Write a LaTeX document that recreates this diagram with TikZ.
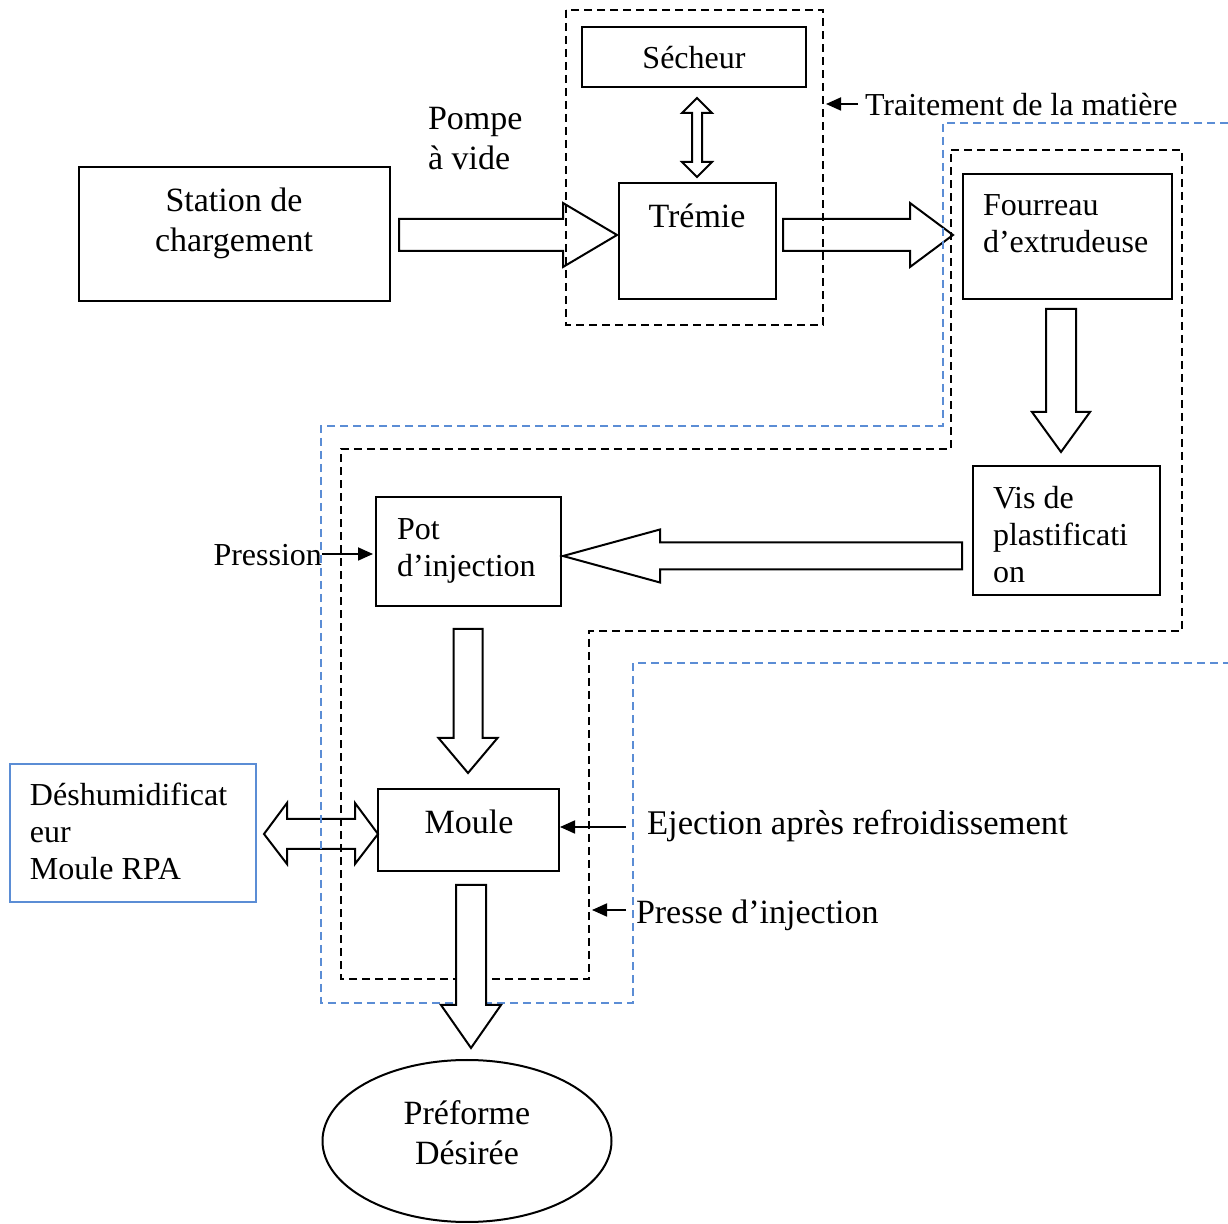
\documentclass[tikz,border=0pt]{standalone}
\usepackage{fontspec}
\setmainfont{Liberation Serif}
\usetikzlibrary{arrows.meta,fit,shapes.geometric}
\definecolor{bluedash}{RGB}{91,141,213}
\newcommand\bigfont{\fontsize{17}{20}\selectfont}
\newcommand\smallfont{\fontsize{16}{18.5}\selectfont}
% horizontal block arrow: start, headbase, tip, yc, shaft half, head half
\newcommand\hblock[7][]{\draw[blk,#1] (#2,#5-#6) -- (#3,#5-#6) -- (#3,#5-#7) -- (#4,#5) -- (#3,#5+#7) -- (#3,#5+#6) -- (#2,#5+#6) -- cycle;}
% vertical block arrow: start, headbase, tip, xc, shaft half, head half
\newcommand\vblock[7][]{\draw[blk,#1] (#5-#6,#2) -- (#5-#6,#3) -- (#5-#7,#3) -- (#5,#4) -- (#5+#7,#3) -- (#5+#6,#3) -- (#5+#6,#2) -- cycle;}
\begin{document}
\begin{tikzpicture}[x=0.5pt,y=-0.5pt,
  box/.style={draw, line width=1pt, inner sep=0pt},
  bluebox/.style={draw=bluedash, line width=0.9pt, inner sep=0pt},
  blk/.style={draw, line width=1pt, line join=miter},
  ptr/.style={-{Triangle[length=7.5pt,width=6.5pt]}, line width=0.9pt},
  blackdash/.style={draw, dash pattern=on 4pt off 2.5pt, line width=1pt},
  bluedashed/.style={draw=bluedash, dash pattern=on 4pt off 2.5pt, line width=0.8pt},
  lbl/.style={inner sep=0pt, outer sep=0pt}]
\useasboundingbox (0,0) rectangle (1228,1224);

% boxes
\node[box, fit={(79,167) (390,301)}] (station) {};
\node[box, fit={(582,27) (806,87)}] (secheur) {};
\node[box, fit={(619,183) (776,299)}] (tremie) {};
\node[box, fit={(963,174) (1172,299)}] (fourreau) {};
\node[box, fit={(973,466) (1160,595)}] (vis) {};
\node[box, fit={(376,497) (561,606)}] (pot) {};
\node[box, fit={(378,789) (559,871)}] (moule) {};
\node[bluebox, fit={(10,764) (256,902)}] (deshum) {};
\node[draw, line width=1pt, ellipse, inner sep=0pt, minimum width=144.5pt, minimum height=81pt] (preforme) at (467,1141) {};

% texts
\node[lbl, font=\bigfont, align=center] (station-t) at (234,223) {Station de\\chargement};
\node[lbl, font=\bigfont, align=left, anchor=west] (pompe-t) at (428,139) {Pompe\\à vide};
\node[lbl, font=\smallfont] (secheur-t) at (694,58) {Sécheur};
\node[lbl, font=\bigfont] (tremie-t) at (697,216) {Trémie};
\node[lbl, font=\smallfont, anchor=mid west] (trait-t) at (865,111) {Traitement de la matière};
\node[lbl, font=\smallfont, align=left, anchor=west] (fourreau-t) at (983,224) {Fourreau\\d’extrudeuse};
\node[lbl, font=\smallfont, align=left, anchor=west] (vis-t) at (993,535) {Vis de\\plastificati\\on};
\node[lbl, font=\smallfont, align=left, anchor=west] (pot-t) at (397,551) {Pot\\d’injection};
\node[lbl, font=\smallfont, anchor=mid east] (pression-t) at (322,561) {Pression};
\node[lbl, font=\bigfont] (moule-t) at (469,822) {Moule};
\node[lbl, font=\smallfont, align=left, anchor=west] (deshum-t) at (30,831) {Déshumidificat\\eur\\Moule RPA};
\node[lbl, font=\fontsize{17.3}{20}\selectfont, anchor=mid west] (eject-t) at (647,830) {Ejection après refroidissement};
\node[lbl, font=\bigfont, anchor=mid west] (presse-t) at (636,919) {Presse d’injection};
\node[lbl, font=\bigfont, align=center] (preforme-t) at (467,1133) {Préforme\\Désirée};

% small pointer arrows
\coordinate (trait-s) at (858,104);
\coordinate (trait-e) at (826,104);
\draw[ptr] (trait-s) -- (trait-e);
\coordinate (pression-s) at (322,554);
\coordinate (pression-e) at (373,554);
\draw[ptr] (pression-s) -- (pression-e);
\coordinate (eject-s) at (626,827);
\draw[ptr] (eject-s) -- (moule.east |- eject-s);
\coordinate (presse-s) at (626,910);
\coordinate (presse-e) at (592,910);
\draw[ptr] (presse-s) -- (presse-e);

% block arrows
\hblock{399}{563}{617}{235}{16}{32}
\hblock{783}{910}{953}{235}{16}{32}
\hblock{962}{660}{563}{556}{13.5}{26.5}
\vblock{309}{412}{452}{1061}{15}{29}
\vblock{629}{738}{773}{468}{14.5}{29.5}
% double arrow Secheur <-> Tremie
\draw[blk] (697,98) -- (712,113) -- (702,113) -- (702,162) -- (712,162) -- (697,177) -- (682,162) -- (692,162) -- (692,113) -- (682,113) -- cycle;
% double arrow Deshum <-> Moule
\draw[blk] (264,834) -- (287,803) -- (287,819) -- (355,819) -- (355,803) -- (378,834) -- (355,864) -- (355,849) -- (287,849) -- (287,864) -- cycle;

% dashed regions
\draw[blackdash] (566,10) rectangle (823,325);
\draw[blackdash] (951,150) -- (1182,150) -- (1182,631) -- (589,631) -- (589,979) -- (341,979) -- (341,449) -- (951,449) -- cycle;
\draw[bluedashed] (1228,123) -- (943,123) -- (943,426) -- (321,426) -- (321,1003) -- (633,1003) -- (633,663) -- (1228,663);

% output arrow on top
\vblock[fill=white]{885}{1005}{1048}{471}{15}{30}
\end{tikzpicture}
\end{document}
